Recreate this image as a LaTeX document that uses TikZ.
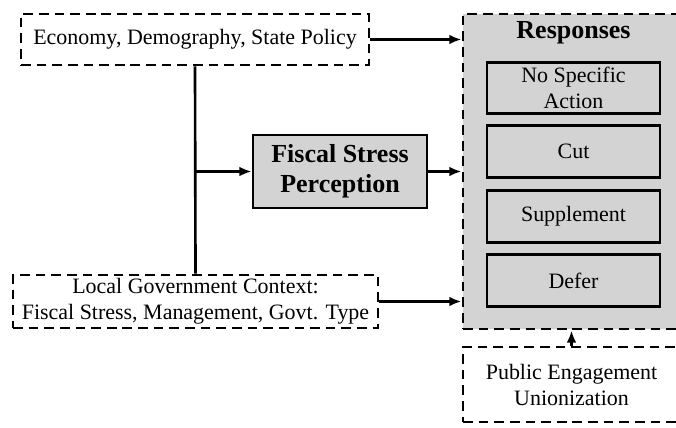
\documentclass[tikz,border=0pt]{standalone}
\usepackage{fontspec}
\setmainfont{Liberation Serif}
\usetikzlibrary{arrows.meta,calc,positioning}

\begin{document}
\begin{tikzpicture}[x=0.02cm, y=-0.02cm, >={Latex[length=7pt,width=5.5pt]},
  font=\fontsize{12.5}{14.8}\selectfont,
  dashbox/.style={draw, line width=1.6pt, dash pattern=on 5.5pt off 3.4pt, align=center, inner sep=0pt},
  actbox/.style={draw, line width=1.5pt, fill=panel, align=center, minimum width=3.46cm, minimum height=1.03cm, inner sep=0pt},
  link/.style={->, line width=1.5pt}]
\definecolor{panel}{HTML}{D3D3D3}
\clip (0,0) rectangle (676,428);
% inputs on the left
\node[dashbox, minimum width=6.96cm, minimum height=1.02cm] (econ) at (195,39.5) {Economy, Demography, State Policy};
\node[dashbox, minimum width=7.3cm, minimum height=1.06cm] (local) at (195.5,301.5) {Local Government Context:\\Fiscal Stress, Management, Govt. Type};
\node[draw, line width=1.5pt, fill=panel, align=center, minimum width=3.48cm, minimum height=1.46cm, inner sep=0pt,
  font=\fontsize{14.8}{17}\selectfont\bfseries] (fsp) at (340,171.5) {Fiscal Stress\\Perception};
% response panel
\node[dashbox, fill=panel, minimum width=4.34cm, minimum height=6.3cm] (resp) at (571.5,171.5) {};
\node[font=\fontsize{14.8}{17}\selectfont\bfseries] (title) at (573.5,33) {Responses};
\node[actbox] (none) at (573.5,88) {No Specific\\Action};
\node[actbox] (cut) at (573.5,151.5) {Cut};
\node[actbox] (supp) at (573.5,216.5) {Supplement};
\node[actbox] (defer) at (573.5,280.5) {Defer};
\node[dashbox, minimum width=4.34cm, minimum height=1.5cm] (pub) at (571.5,384.5) {Public Engagement\\Unionization};
% connectors
\coordinate (split) at (195,171.5);
\draw[line width=1.5pt] (econ.south) -- (local.north);
\draw[link] (split) -- (fsp.west);
\draw[link] (econ.east) -- (econ.east -| resp.west);
\draw[link] (fsp.east) -- (fsp.east -| resp.west);
\draw[link] (local.east) -- (local.east -| resp.west);
\draw[link] (pub.north) -- (resp.south);
\end{tikzpicture}
\end{document}
